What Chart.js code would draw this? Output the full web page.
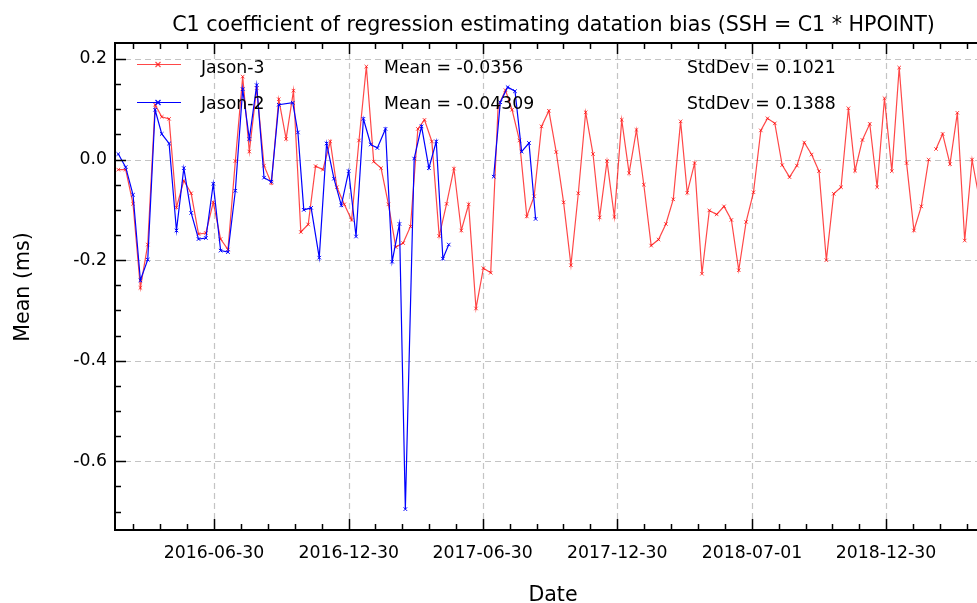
<!DOCTYPE html>
<html><head><meta charset="utf-8">
<script src="https://cdn.jsdelivr.net/npm/chart.js@4/dist/chart.umd.min.js"></script>
<style>html,body{margin:0;padding:0;background:#fff;}#wrap{width:977px;height:603px;}</style>
</head><body><div id="wrap"><canvas id="c" width="977" height="603"></canvas></div>
<script>
// ---- data ----
const jason3Dates = ['2016-02-21','2016-03-02','2016-03-12','2016-03-22','2016-04-01','2016-04-11','2016-04-20','2016-04-30','2016-05-10','2016-05-20',
'2016-05-30','2016-06-09','2016-06-19','2016-06-29','2016-07-09','2016-07-19','2016-07-29','2016-08-08','2016-08-17','2016-08-27',
'2016-09-06','2016-09-16','2016-09-26','2016-10-06','2016-10-16','2016-10-26','2016-11-05','2016-11-15','2016-11-25','2016-12-05',
'2016-12-14','2016-12-24','2017-01-03','2017-01-13','2017-01-23','2017-02-02','2017-02-12','2017-02-22','2017-03-04','2017-03-14',
'2017-03-24','2017-04-03','2017-04-12','2017-04-22','2017-05-02','2017-05-12','2017-05-22','2017-06-01','2017-06-11','2017-06-21',
'2017-07-01','2017-07-11','2017-07-21','2017-07-31','2017-08-09','2017-08-19','2017-08-29','2017-09-08','2017-09-18','2017-09-28',
'2017-10-08','2017-10-18','2017-10-28','2017-11-07','2017-11-17','2017-11-27','2017-12-06','2017-12-16','2017-12-26','2018-01-05',
'2018-01-15','2018-01-25','2018-02-04','2018-02-14','2018-02-24','2018-03-06','2018-03-16','2018-03-26','2018-04-04','2018-04-14',
'2018-04-24','2018-05-04','2018-05-14','2018-05-24','2018-06-03','2018-06-13','2018-06-23','2018-07-03','2018-07-13','2018-07-22',
'2018-08-01','2018-08-11','2018-08-21','2018-08-31','2018-09-10','2018-09-20','2018-09-30','2018-10-10','2018-10-20','2018-10-30',
'2018-11-09','2018-11-18','2018-11-28','2018-12-08','2018-12-18','2018-12-28','2019-01-07','2019-01-17','2019-01-27','2019-02-06',
'2019-02-16','2019-02-26','2019-03-03','2019-03-08','2019-03-17','2019-03-27','2019-04-06','2019-04-16','2019-04-26','2019-05-06'];
const jason3Values = [-0.020,-0.020,-0.088,-0.255,-0.169,0.109,0.085,0.081,-0.095,-0.042,
-0.067,-0.148,-0.146,-0.085,-0.158,-0.179,-0.003,0.165,0.016,0.142,
-0.012,-0.047,0.120,0.041,0.137,-0.144,-0.129,-0.013,-0.020,0.036,
-0.055,-0.089,-0.120,0.038,0.185,-0.004,-0.017,-0.089,-0.174,-0.166,
-0.133,0.061,0.079,0.036,-0.152,-0.088,-0.018,-0.141,-0.089,-0.296,
-0.216,-0.225,0.105,0.138,0.099,0.038,-0.113,-0.073,0.066,0.097,
0.015,-0.085,-0.210,-0.067,0.094,0.011,-0.115,-0.003,-0.114,0.079,
-0.027,0.059,-0.050,-0.171,-0.159,-0.128,-0.079,0.076,-0.066,-0.007,
-0.227,-0.101,-0.109,-0.093,-0.120,-0.220,-0.124,-0.065,0.058,0.082,
0.072,-0.011,-0.035,-0.012,0.034,0.010,-0.023,-0.200,-0.068,-0.055,
0.102,-0.022,0.039,0.071,-0.055,0.122,-0.023,0.183,-0.007,-0.141,
-0.093,0.000,null,0.021,0.051,-0.009,0.093,-0.161,0.000,-0.080];
const jason2Dates = ['2016-02-21','2016-03-02','2016-03-12','2016-03-22','2016-04-01','2016-04-11','2016-04-20','2016-04-30','2016-05-10','2016-05-20',
'2016-05-30','2016-06-09','2016-06-19','2016-06-29','2016-07-09','2016-07-19','2016-07-29','2016-08-08','2016-08-17','2016-08-27',
'2016-09-06','2016-09-16','2016-09-26','2016-10-15','2016-10-22','2016-10-30','2016-11-09','2016-11-20','2016-11-30','2016-12-10',
'2016-12-20','2016-12-30','2017-01-09','2017-01-19','2017-01-29','2017-02-07','2017-02-18','2017-02-27','2017-03-09','2017-03-17',
'2017-03-29','2017-04-08','2017-04-18','2017-04-28','2017-05-07','2017-05-15','2017-06-15','2017-07-15','2017-07-24','2017-08-03',
'2017-08-13','2017-08-22','2017-09-01','2017-09-10'];
const jason2Values = [0.011,-0.015,-0.070,-0.240,-0.199,0.099,0.051,0.032,-0.141,-0.017,
-0.106,-0.158,-0.156,-0.048,-0.181,-0.184,-0.062,0.140,0.041,0.148,
-0.036,-0.044,0.109,0.113,0.054,-0.100,-0.096,-0.195,0.032,-0.038,
-0.091,-0.023,-0.153,0.081,0.030,0.023,0.061,-0.203,-0.128,-0.695,
0.002,0.066,-0.017,0.036,-0.197,-0.169,null,-0.034,0.114,0.144,
0.136,0.016,0.033,-0.118];
const seriesNames = ['Jason-3','Jason-2'];
const meanLabels = ['Mean = -0.0356','Mean = -0.04309'];
const stdLabels = ['StdDev = 0.1021','StdDev = 0.1388'];
const xTickLabels = ['2016-06-30','2016-12-30','2017-06-30','2017-12-30','2018-07-01','2018-12-30'];
const yTickValues = [-0.6,-0.4,-0.2,0.0,0.2];
const titleText = 'C1 coefficient of regression estimating datation bias (SSH = C1 * HPOINT)';
const xTitle = 'Date';
const yTitle = 'Mean (ms)';

// ---- helpers ----
const day = s => Date.UTC(+s.slice(0,4), +s.slice(5,7)-1, +s.slice(8,10)) / 864e5;
const toPts = (d, v) => d.map((s,i) => ({x: day(s), y: v[i]}));
const FONT = 'DejaVu Sans';
const RED = 'rgba(255,0,0,0.72)';
const BLUE = 'rgb(0,0,255)';
const xMajor = xTickLabels.map(day);
const xStep = (xMajor[xMajor.length-1]-xMajor[0])/(xMajor.length-1);
const xMin = xMajor[0] - 134.5, xMax = xMajor[0] + 1036.7;
const yMin = -0.7365, yMax = 0.2318;

// let the plot area reach the right edge of the canvas (no extra padding for marker overflow)
const LineCtrl = (Chart.controllers && Chart.controllers.LineController) || Chart.LineController || Chart.registry.getController('line');
if (LineCtrl) LineCtrl.prototype.getMaxOverflow = function () { return 0; };

const decor = {
  id: 'decor',
  beforeDatasetsDraw(chart) {
    const {ctx, chartArea: a, scales: {x, y}} = chart;
    ctx.save();
    ctx.strokeStyle = '#c4c4c4'; ctx.lineWidth = 1.2; ctx.setLineDash([6,4]);
    xMajor.forEach(v => { const px = Math.round(x.getPixelForValue(v))+0.5; ctx.beginPath(); ctx.moveTo(px,a.top); ctx.lineTo(px,a.bottom); ctx.stroke(); });
    yTickValues.forEach(v => { const py = Math.round(y.getPixelForValue(v))+0.5; ctx.beginPath(); ctx.moveTo(a.left,py); ctx.lineTo(a.right,py); ctx.stroke(); });
    ctx.restore();
  },
  afterDatasetsDraw(chart) {
    const {ctx, chartArea: a, scales: {x, y}} = chart;
    ctx.save();
    ctx.strokeStyle = '#000'; ctx.lineWidth = 1.5;
    const xt = [];
    for (let v = xMajor[0] - xStep/5; v >= xMin; v -= xStep/5) xt.push([v, false]);
    for (let i = 0; i < xMajor.length; i++) {
      const nx = i < xMajor.length-1 ? xMajor[i+1] : xMajor[i] + xStep;
      const st = (nx - xMajor[i])/5;
      for (let j = 0; j < 5; j++) { const v = xMajor[i] + j*st; if (v <= xMax) xt.push([v, j === 0]); }
    }
    xt.forEach(([v, maj]) => {
      const px = Math.round(x.getPixelForValue(v)) + 0.5; const L = maj ? 11 : 6;
      if (px < a.left || px > a.right) return;
      ctx.beginPath(); ctx.moveTo(px, a.bottom); ctx.lineTo(px, a.bottom - L); ctx.stroke();
      ctx.beginPath(); ctx.moveTo(px, a.top); ctx.lineTo(px, a.top + L); ctx.stroke();
    });
    for (let k = -14; k <= 4; k++) {
      const v = k*0.05; if (v < yMin || v > yMax) continue;
      const py = Math.round(y.getPixelForValue(v)) + 0.5; const L = (k % 4 === 0) ? 11 : 6;
      ctx.beginPath(); ctx.moveTo(a.left, py); ctx.lineTo(a.left + L, py); ctx.stroke();
    }
    ctx.lineWidth = 2;
    ctx.beginPath();
    ctx.moveTo(a.right + 5, a.top); ctx.lineTo(a.left, a.top); ctx.lineTo(a.left, a.bottom); ctx.lineTo(a.right + 5, a.bottom);
    ctx.stroke();
    ctx.restore();
  },
  afterDraw(chart) {
    const {ctx} = chart;
    ctx.save();
    ctx.fillStyle = '#000';
    ctx.font = '20.6px "' + FONT + '"'; ctx.textAlign = 'center'; ctx.textBaseline = 'alphabetic';
    ctx.fillText(titleText, 553.5, 31);
    ctx.fillText(xTitle, 553, 601);
    ctx.save(); ctx.translate(29, 287); ctx.rotate(-Math.PI/2); ctx.fillText(yTitle, 0, 0); ctx.restore();
    ctx.font = '17.3px "' + FONT + '"'; ctx.textAlign = 'left';
    const rows = [{c: RED, ly: 64.5, ty: 73}, {c: BLUE, ly: 102.5, ty: 109}];
    rows.forEach((r, i) => {
      ctx.strokeStyle = r.c; ctx.lineWidth = 1.2;
      ctx.beginPath(); ctx.moveTo(137, r.ly); ctx.lineTo(181, r.ly); ctx.stroke();
      ctx.beginPath(); ctx.moveTo(155.5, r.ly-2.5); ctx.lineTo(160.5, r.ly+2.5); ctx.moveTo(155.5, r.ly+2.5); ctx.lineTo(160.5, r.ly-2.5); ctx.stroke();
      ctx.fillStyle = '#000';
      ctx.fillText(seriesNames[i], 201, r.ty);
      ctx.fillText(meanLabels[i], 384, r.ty);
      ctx.fillText(stdLabels[i], 687, r.ty);
    });
    ctx.restore();
  }
};

new Chart(document.getElementById('c'), {
  type: 'line',
  data: {
    datasets: [
      {label: seriesNames[0], data: toPts(jason3Dates, jason3Values), borderColor: RED, backgroundColor: RED,
       borderWidth: 1.2, pointStyle: 'crossRot', pointRadius: 2.5, pointBorderWidth: 1, pointBorderColor: RED, spanGaps: false, order: 1, tension: 0},
      {label: seriesNames[1], data: toPts(jason2Dates, jason2Values), borderColor: BLUE, backgroundColor: BLUE,
       borderWidth: 1.2, pointStyle: 'crossRot', pointRadius: 2.5, pointBorderWidth: 1, pointBorderColor: BLUE, spanGaps: false, order: 0, tension: 0}
    ]
  },
  options: {
    responsive: false, animation: false, devicePixelRatio: 1,
    layout: {padding: {left: 0, right: 0, top: 43, bottom: 0}},
    plugins: {legend: {display: false}, title: {display: false}, tooltip: {enabled: false}},
    events: [],
    scales: {
      x: {
        type: 'linear', min: xMin, max: xMax,
        afterBuildTicks: s => { s.ticks = xMajor.map(v => ({value: v})); },
        afterFit: s => { s.height = 73; s.paddingLeft = 0; s.paddingRight = 0; },
        ticks: {autoSkip: false, maxRotation: 0, padding: 13, color: '#000', font: {family: FONT, size: 17.3},
                callback: v => xTickLabels[xMajor.indexOf(v)]},
        grid: {display: false, drawTicks: false}, border: {display: false}
      },
      y: {
        type: 'linear', min: yMin, max: yMax,
        afterBuildTicks: s => { s.ticks = yTickValues.map(v => ({value: v})); },
        afterFit: s => { s.width = 115; s.paddingTop = 0; s.paddingBottom = 0; },
        ticks: {padding: 8, color: '#000', font: {family: FONT, size: 17.3}, callback: v => v.toFixed(1)},
        grid: {display: false, drawTicks: false}, border: {display: false}
      }
    }
  },
  plugins: [decor]
});
</script></body></html>
